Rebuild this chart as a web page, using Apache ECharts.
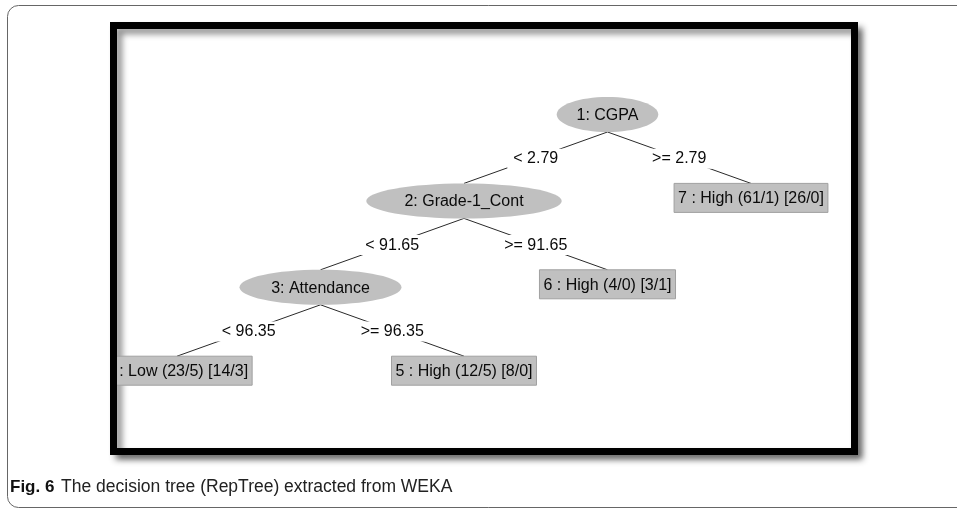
<!DOCTYPE html>
<html lang="en">

<head>
  <meta charset="UTF-8">
  <title>RepTree</title>
  <script src="https://cdn.jsdelivr.net/npm/echarts@6.0.0/dist/echarts.min.js"></script>
  <style>
    body { margin: 0; background: #fff; }
  </style>
</head>

<body>
  <div id="main" style="width: 957px;height:508px;"></div>

  <script type="text/javascript">
    // Tree nodes (WEKA RepTree output)
    const nodeLabels = [
      '1: CGPA',
      '2: Grade-1_Cont',
      '3: Attendance',
      '4 : Low (23/5) [14/3]',
      '5 : High (12/5) [8/0]',
      '6 : High (4/0) [3/1]',
      '7 : High (61/1) [26/0]'
    ];
    const nodeIsLeaf = [false, false, false, true, true, true, true];

    // Edges: parent -> child with split condition
    const edgeFrom = [0, 0, 1, 1, 2, 2];
    const edgeTo = [1, 6, 2, 5, 3, 4];
    const edgeLabels = ['< 2.79', '>= 2.79', '< 91.65', '>= 91.65', '< 96.35', '>= 96.35'];

    // Layout as WEKA places it: depth and column of each node
    const nodeDepth = [0, 1, 2, 3, 3, 2, 1];
    const nodeColumn = [3, 2, 1, 0, 2, 3, 4];

    const FONT = '16px "Liberation Sans", Arial, sans-serif';
    const TEXT = '#0a0a0a';
    const NODE_FILL = '#c0c0c0';
    const ELL_H = 35;
    const RECT_H = 29;

    const measureCtx = document.createElement('canvas').getContext('2d');
    measureCtx.font = FONT;
    function textWidth(s) {
      return measureCtx.measureText(s).width;
    }

    function nodeHeight(i) {
      return nodeIsLeaf[i] ? RECT_H : ELL_H;
    }

    function renderNode(params, api) {
      const i = api.value(2);
      const top = api.coord([api.value(0), api.value(1)]);
      const tw = textWidth(nodeLabels[i]);
      let shape;
      if (nodeIsLeaf[i]) {
        const w = tw + 8;
        shape = {
          type: 'rect',
          shape: { x: top[0] - w / 2, y: top[1], width: w, height: RECT_H },
          style: { fill: NODE_FILL, stroke: '#a0a0a0', lineWidth: 1 }
        };
      } else {
        shape = {
          type: 'ellipse',
          shape: { cx: top[0], cy: top[1] + ELL_H / 2, rx: tw * 0.82, ry: ELL_H / 2 },
          style: { fill: NODE_FILL }
        };
      }
      return {
        type: 'group',
        children: [shape, {
          type: 'text',
          style: {
            text: nodeLabels[i],
            x: top[0],
            y: top[1] + nodeHeight(i) / 2 + 1,
            align: 'center',
            verticalAlign: 'middle',
            font: FONT,
            fill: TEXT
          }
        }]
      };
    }

    function renderEdge(params, api) {
      const k = api.value(2);
      const p = edgeFrom[k], c = edgeTo[k];
      const a = api.coord([nodeColumn[p], nodeDepth[p]]);
      const b = api.coord([nodeColumn[c], nodeDepth[c]]);
      const x1 = a[0], y1 = a[1] + nodeHeight(p);
      const x2 = b[0], y2 = b[1];
      return {
        type: 'group',
        children: [{
          type: 'line',
          shape: { x1: x1, y1: y1, x2: x2, y2: y2 },
          style: { stroke: '#2a2a2a', lineWidth: 1 }
        }, {
          type: 'text',
          style: {
            text: edgeLabels[k],
            x: (x1 + x2) / 2,
            y: (y1 + y2) / 2 + 1,
            align: 'center',
            verticalAlign: 'middle',
            font: FONT,
            fill: TEXT,
            backgroundColor: '#fff',
            padding: [2, 6]
          }
        }]
      };
    }

    let myChart = echarts.init(document.getElementById('main'));

    const options = {
      animation: false,
      // grid = inside of the black WEKA window
      grid: { left: 117, top: 29, right: 106, bottom: 60 },
      xAxis: { type: 'value', min: -0.4181, max: 4.6969, show: false },
      yAxis: { type: 'value', min: -0.787, max: 4.0625, inverse: true, show: false },
      graphic: [
        {
          type: 'rect',
          shape: { x: 7.5, y: 5.5, width: 1000, height: 502, r: 11 },
          style: { fill: 'none', stroke: '#666', lineWidth: 1 }
        },
        {
          type: 'rect',
          shape: { x: 113.5, y: 25.5, width: 741, height: 426 },
          style: {
            fill: '#fff', stroke: '#000', lineWidth: 7,
            shadowBlur: 6, shadowOffsetX: 5, shadowOffsetY: 5,
            shadowColor: 'rgba(0,0,0,0.45)'
          }
        },
        {
          type: 'text',
          style: {
            x: 10, y: 487,
            verticalAlign: 'middle',
            text: '{b|Fig. 6}  {n|The decision tree (RepTree) extracted from WEKA}',
            rich: {
              b: { font: 'bold 17px "Liberation Sans", Arial, sans-serif', fill: '#111' },
              n: { font: '17.5px "Liberation Sans", Arial, sans-serif', fill: '#222' }
            }
          }
        }
      ],
      series: [
        {
          type: 'custom',
          z: 5,
          clip: true,
          renderItem: renderEdge,
          data: edgeFrom.map((p, k) => [nodeColumn[p], nodeDepth[p], k])
        },
        {
          type: 'custom',
          z: 6,
          clip: true,
          renderItem: renderNode,
          data: nodeLabels.map((s, i) => [nodeColumn[i], nodeDepth[i], i])
        }
      ]
    };

    myChart.setOption(options);
  </script>
</body>

</html>
